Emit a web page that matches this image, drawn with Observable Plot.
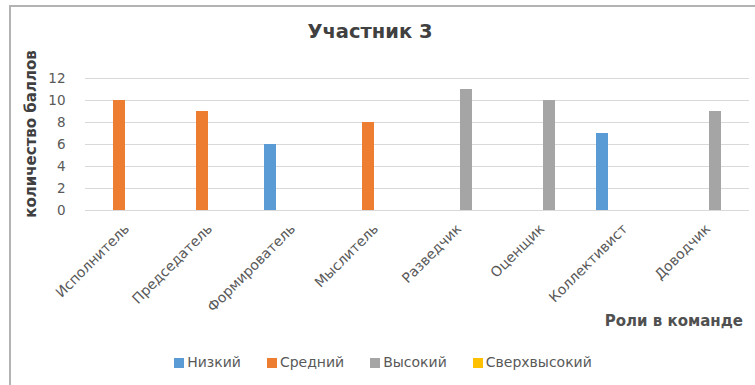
<!DOCTYPE html>
<html><head><meta charset="utf-8">
<script src="https://cdn.jsdelivr.net/npm/d3@7"></script>
<script src="https://cdn.jsdelivr.net/npm/@observablehq/plot@0.6"></script>
<style>
body{margin:0;background:#fff;font-family:"DejaVu Sans",sans-serif;}
#wrap{position:relative;width:755px;height:385px;overflow:hidden;background:#fff;}
#frame{position:absolute;left:9px;top:5px;width:800px;height:400px;border-left:2px solid #b3b3b3;border-top:2px solid #b3b3b3;}
#chart{position:absolute;left:0;top:0;}
#title{position:absolute;left:220px;width:300px;top:20px;text-align:center;font-size:19.5px;font-weight:bold;color:#404040;}
#ylab{position:absolute;left:31px;top:134px;transform:translate(-50%,-50%) rotate(-90deg);white-space:nowrap;font-size:15px;font-weight:bold;color:#404040;}
#xlab{position:absolute;right:12px;top:312px;font-size:15px;font-weight:bold;color:#505050;}
#legend{position:absolute;left:0;width:766px;top:354px;display:flex;justify-content:center;gap:26px;font-size:14px;color:#595959;}
#legend span.sw{display:inline-block;width:10px;height:10px;margin-right:3px;vertical-align:-1px;}
</style>
</head><body>
<div id="wrap">
<div id="frame"></div>
<div id="chart"></div>
<div id="title">Участник 3</div>
<div id="ylab">количество баллов</div>
<div id="xlab">Роли в команде</div>
<div id="legend"></div>
</div>
<script>
const categories = ["Исполнитель","Председатель","Формирователь","Мыслитель","Разведчик","Оценщик","Коллективист","Доводчик"];
const series = ["Низкий","Средний","Высокий","Сверхвысокий"];
const low = [0,0,6,0,0,0,7,0];
const mid = [10,9,0,8,0,0,0,0];
const high = [0,0,0,0,11,10,0,9];
const superHigh = [0,0,0,0,0,0,0,0];
const colors = ["#5b9bd5","#ed7d31","#a5a5a5","#ffc000"];
const yTicks = [0,2,4,6,8,10,12];

const seriesValues = [low, mid, high, superHigh];
const data = categories.flatMap((c,i)=>seriesValues.map((arr,j)=>({role:c, level:series[j], value:arr[i]})));

const chart = Plot.plot({
  width:755, height:385,
  marginTop:78, marginBottom:175, marginLeft:82, marginRight:3,
  style:{fontFamily:"'DejaVu Sans', sans-serif", background:"transparent", overflow:"visible"},
  fx:{domain:categories, padding:0, label:null},
  x:{domain:series, paddingInner:0.23, paddingOuter:0.81, axis:null},
  y:{domain:[0,12], label:null},
  color:{domain:series, range:colors},
  marks:[
    Plot.gridY(yTicks,{stroke:"#d9d9d9", strokeOpacity:1, strokeWidth:1}),
    Plot.barY(data.filter(d=>d.value>0),{fx:"role", x:"level", y:"value", fill:"level"}),
    Plot.axisY(yTicks,{tickSize:0, tickPadding:20, fontSize:13.5, fill:"#595959", label:null}),
    Plot.axisFx({anchor:"bottom", tickSize:0, tickRotate:-45, tickPadding:16, fontSize:14, fill:"#595959", label:null})
  ]
});
document.getElementById("chart").appendChild(chart);

const legend = document.getElementById("legend");
series.forEach((s,i)=>{
  const item = document.createElement("div");
  item.innerHTML = `<span class="sw" style="background:${colors[i]}"></span>${s}`;
  legend.appendChild(item);
});
</script>
</body></html>
